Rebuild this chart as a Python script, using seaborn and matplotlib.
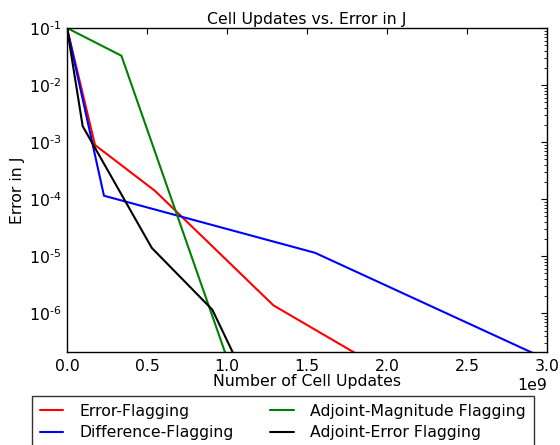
import matplotlib
matplotlib.use("Agg")
import matplotlib.pyplot as plt
from matplotlib.ticker import FuncFormatter
import seaborn as sns
import pandas as pd
import numpy as np

# Data (x in cell updates, y error in J)
err_x = [0.0, 0.175e9, 0.55e9, 1.29e9, 2.0e9]
err_y = [0.1, 8.9e-4, 1.4e-4, 1.38e-6, 9.5e-8]
diff_x = [0.0, 0.231e9, 1.55e9, 3.0e9]
diff_y = [0.1, 1.15e-4, 1.15e-5, 1.55e-7]
adjmag_x = [0.0, 0.34e9, 1.0e9]
adjmag_y = [0.1, 0.0327, 1.65e-7]
adjerr_x = [0.0, 0.098e9, 0.53e9, 0.908e9, 1.1e9]
adjerr_y = [0.1, 1.9e-3, 1.4e-5, 1.16e-6, 8.7e-8]

labels = ["Error-Flagging", "Difference-Flagging",
          "Adjoint-Magnitude Flagging", "Adjoint-Error Flagging"]
colors = ["#ff0000", "#0000ff", "#008000", "#000000"]
xticks = [0, 0.5e9, 1.0e9, 1.5e9, 2.0e9, 2.5e9, 3.0e9]

frames = []
for lab, xs, ys in zip(labels, [err_x, diff_x, adjmag_x, adjerr_x],
                       [err_y, diff_y, adjmag_y, adjerr_y]):
    frames.append(pd.DataFrame({"x": xs, "y": ys, "method": lab}))
df = pd.concat(frames, ignore_index=True)

FS = 11.3
sns.set_theme(style="white")
plt.rcParams["font.family"] = ["DejaVu Sans"]
plt.rcParams.update({
    "xtick.direction": "in", "ytick.direction": "in",
    "xtick.top": True, "ytick.right": True,
    "axes.edgecolor": "black", "axes.linewidth": 1.0,
    "xtick.color": "black", "ytick.color": "black",
    "text.color": "black", "axes.labelcolor": "black",
    "axes.unicode_minus": False,
})

fig = plt.figure(figsize=(5.6, 4.45), dpi=100)
ax = fig.add_axes([67/560, 1-352/445, (547-67)/560, (352-28)/445])

sns.lineplot(data=df, x="x", y="y", hue="method", hue_order=labels,
             palette=dict(zip(labels, colors)), estimator=None, sort=False,
             linewidth=1.5, ax=ax, legend=False)

ax.set_yscale("log")
ax.set_xlim(0, 3.0e9)
ax.set_ylim(2.1e-7, 0.1)
ax.set_xticks(xticks)
ax.ticklabel_format(axis="x", style="sci", scilimits=(0, 0))
ax.xaxis.get_offset_text().set_fontsize(FS)


def logfmt(v, pos):
    e = int(round(np.log10(v)))
    return r"$\mathdefault{10^{\text{-}%d}}$" % (-e) if e < 0 else r"$10^{%d}$" % e


ax.yaxis.set_major_formatter(FuncFormatter(logfmt))
ax.tick_params(axis="both", which="major", labelsize=FS, length=4, width=0.8,
               direction="in", top=True, right=True, pad=4)
ax.tick_params(axis="x", which="major", pad=5)
ax.tick_params(axis="both", which="minor", length=2, width=0.6,
               direction="in", top=True, right=True)
ax.set_xlabel("Number of Cell Updates", fontsize=FS, labelpad=0)
ax.set_ylabel("Error in J", fontsize=FS, labelpad=3)
ax.set_title("Cell Updates vs. Error in J", fontsize=FS, pad=3)
for s in ax.spines.values():
    s.set_color("black")

handles = [plt.Line2D([], [], color=c, lw=1.5) for c in colors]
leg = fig.legend(handles, labels,
                 ncol=2, loc="upper left",
                 bbox_to_anchor=(32/560, 1-396/445), fontsize=FS,
                 frameon=True, fancybox=False, edgecolor="black",
                 borderaxespad=0, columnspacing=2.3, handlelength=1.5,
                 handletextpad=1.05, labelspacing=0.4, borderpad=0.5)
leg.get_frame().set_linewidth(1.0)

fig.savefig("out.png", dpi=100)
